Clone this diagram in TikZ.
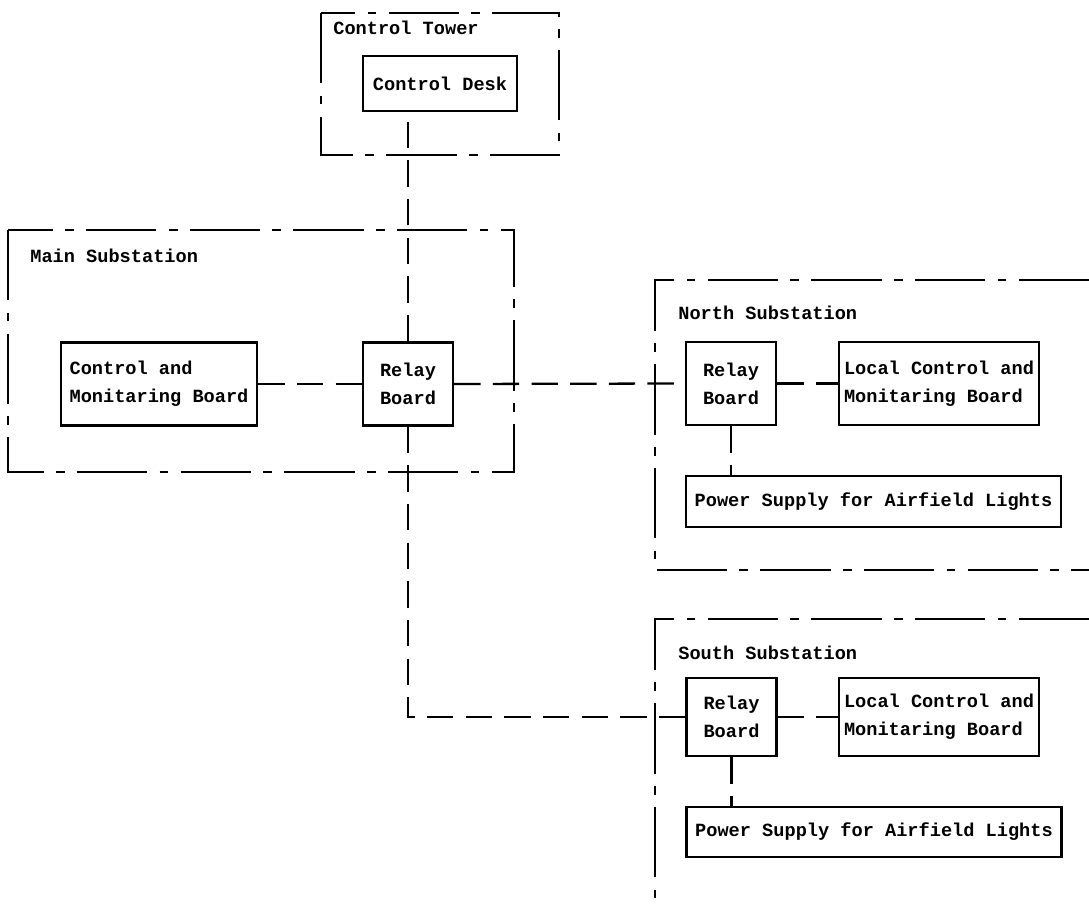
\documentclass[tikz,border=0pt]{standalone}
\usepackage{fontspec}
\setmainfont{Liberation Mono}
\usepackage{tikz}
\usetikzlibrary{calc}

\begin{document}
\begin{tikzpicture}[x=0.02cm, y=-0.02cm,
        box/.style={draw, line width=1.4pt, align=left, inner sep=0pt, font=\bfseries\fontsize{10.6}{15.9}\selectfont},
        zone/.style={line width=1.3pt, dash pattern=on 40pt off 7pt on 5pt off 7pt},
        link/.style={line width=1.3pt, dash pattern=on 15pt off 7pt},
        zonetitle/.style={anchor=west, inner sep=0pt, font=\bfseries\fontsize{10.6}{15.9}\selectfont}]

        \useasboundingbox (0,0) rectangle (1089,908);

        \draw[zone] (321,13) rectangle (559,155);

        \draw[zone] (8,230) rectangle (514,472);

        \draw[zone] (1089,280) -| (655,570) -- (1089,570);

        \draw[zone] (1089,619) -| (655,908);

        \node[zonetitle] (towertitle) at (333,28) {Control Tower};

        \node[zonetitle] (maintitle) at (30,256) {Main Substation};

        \node[zonetitle] (northtitle) at (678,313) {North Substation};

        \node[zonetitle] (southtitle) at (678,653) {South Substation};

        \node[box, minimum width=3.08cm, minimum height=1.1cm] (desk) at (440,83.5) {Control Desk};

        \node[box, minimum width=3.92cm, minimum height=1.66cm] (cmb) at (159,384) {Control and\\Monitaring Board};

        \node[box, minimum width=1.8cm, minimum height=1.66cm] (mrelay) at (408,384) {Relay\\Board};

        \node[box, minimum width=1.8cm, minimum height=1.66cm] (nrelay) at (731,383.5) {Relay\\Board};

        \node[box, minimum width=4cm, minimum height=1.66cm] (nlocal) at (939,383.5) {Local Control and\\Monitaring Board};

        \node[box, minimum width=7.5cm, minimum height=1.02cm] (npower) at (873.5,501.5) {Power Supply for Airfield Lights};

        \node[box, minimum width=1.8cm, minimum height=1.56cm] (srelay) at (731.5,717) {Relay\\Board};

        \node[box, minimum width=4cm, minimum height=1.56cm] (slocal) at (939,717) {Local Control and\\Monitaring Board};

        \node[box, minimum width=7.5cm, minimum height=1cm] (spower) at (874,832) {Power Supply for Airfield Lights};

        \draw[link] (mrelay.north) -- (mrelay.north |- desk.south);

        \draw[link] (cmb.east) -- (mrelay.west);

        \draw[link] (mrelay.east) -- (nrelay.west);

        \draw[link] (mrelay.south) |- (srelay.west);

        \draw[link] (nrelay.east) -- (nlocal.west);

        \draw[link] (nrelay.south) -- (nrelay.south |- npower.north);

        \draw[link] (srelay.east) -- (slocal.west);

        \draw[link] (srelay.south) -- (srelay.south |- spower.north);

\end{tikzpicture}
\end{document}
